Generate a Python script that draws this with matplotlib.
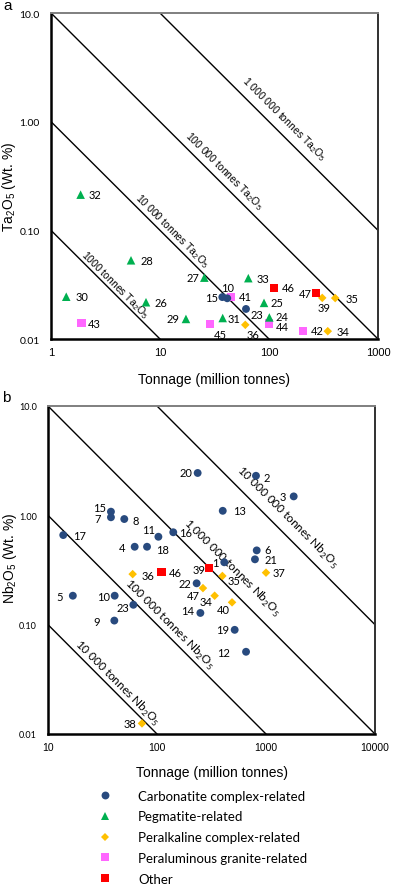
import numpy as np
import matplotlib
matplotlib.use("Agg")
import matplotlib.pyplot as plt
from matplotlib.lines import Line2D
from matplotlib.ticker import NullLocator, FixedLocator, FixedFormatter

# ---- Panel a: Ta2O5 deposits ----
ta_labels = ["32", "28", "30", "26", "43", "29", "27", "33", "46", "15", "10", "41",
             "23", "25", "31", "24", "45", "36", "44", "47", "39", "35", "42", "34"]
ta_tonnage = [1.87, 5.42, 1.38, 7.44, 1.91, 17.3, 25.5, 64.6, 111, 37.3, 41.4, 45.1,
              61.5, 90, 37.6, 100.7, 28.8, 60.6, 99.4, 270, 308, 405, 205, 346]
ta_grade = [0.213, 0.053, 0.0245, 0.0218, 0.014, 0.0153, 0.0367, 0.0363, 0.0297, 0.0243,
            0.0237, 0.0245, 0.0189, 0.0215, 0.0156, 0.0158, 0.0137, 0.0135, 0.0139,
            0.0267, 0.0239, 0.0238, 0.0119, 0.0118]
ta_type = ["peg", "peg", "peg", "peg", "peralum", "peg", "peg", "peg", "other", "carb",
           "carb", "peralum", "carb", "peg", "peg", "peg", "peralum", "peralk", "peralum",
           "other", "peralk", "peralk", "peralum", "peralk"]

# ---- Panel b: Nb2O5 deposits ----
nb_labels = ["20", "2", "3", "13", "15", "7", "8", "17", "11", "16", "4", "18", "6", "21",
             "1", "39", "36", "46", "35", "37", "22", "47", "34", "40", "14", "5", "10",
             "23", "9", "19", "12", "38"]
nb_tonnage = [236, 809, 1795, 401, 37.8, 37.8, 50.1, 13.8, 103, 141, 62.4, 81, 822, 792,
              414, 302, 59.8, 110, 398, 1000, 231, 264, 338, 488, 250, 16.9, 40.9,
              60.7, 40.6, 516, 656, 72.8]
nb_grade = [2.44, 2.3, 1.49, 1.10, 1.08, 0.96, 0.925, 0.66, 0.637, 0.70, 0.516, 0.516,
            0.478, 0.396, 0.372, 0.332, 0.29, 0.305, 0.279, 0.299, 0.239, 0.216, 0.184,
            0.16, 0.128, 0.184, 0.184, 0.152, 0.109, 0.0897, 0.0565, 0.0125]
nb_type = ["carb"] * 15 + ["other", "peralk", "other", "peralk", "peralk", "carb",
                           "peralk", "peralk", "peralk"] + ["carb"] * 7 + ["peralk"]

# contained-oxide guide lines (tonnes)
ta_contours = [1000, 10000, 100000, 1000000]
ta_contour_text = ["1000 tonnes", "10 000 tonnes", "100 000 tonnes", "1 000 000 tonnes"]
nb_contours = [10000, 100000, 1000000, 10000000]
nb_contour_text = ["10 000 tonnes", "100 000 tonnes", "1 000 000 tonnes", "10 000 000 tonnes"]

# deposit types: legend label, marker, colour, size
TYPES = {
    "carb": ("Carbonatite complex-related", "o", "#284A7E", 32),
    "peg": ("Pegmatite-related", "^", "#00B050", 38),
    "peralk": ("Peralkaline complex-related", "D", "#FFC000", 19),
    "peralum": ("Peraluminous granite-related", "s", "#FF66FF", 36),
    "other": ("Other", "s", "#FF0000", 34),
}
DRAW_ORDER = ["peralum", "peralk", "peg", "other", "carb"]
LEGEND_ORDER = ["carb", "peg", "peralk", "peralum", "other"]

# label offsets in pixels (dx right, dy down) and alignment
ta_offsets = {
    "32": (8, 0, "left"), "28": (10, 0, "left"), "30": (9, 0, "left"),
    "26": (9, 0, "left"), "43": (6, 0, "left"), "29": (-6, 0, "right"),
    "27": (-5, 0, "right"), "33": (8, 0, "left"), "46": (8, 0, "left"),
    "15": (-4, 0, "right"), "10": (0, -11, "center"), "41": (8, 0, "left"),
    "23": (5, 6, "left"), "25": (7, 0, "left"), "31": (5, 0, "left"),
    "24": (6, -1, "left"), "45": (4, 10, "left"), "36": (1, 10, "left"),
    "44": (7, 3, "left"), "47": (-4, 1, "right"), "39": (2, 10, "center"),
    "35": (10, 0, "left"), "42": (8, 0, "left"), "34": (9, 0, "left"),
}
nb_offsets = {
    "20": (-5, 0, "right"), "2": (8, 2, "left"), "3": (-8, 0, "right"),
    "13": (10, 0, "left"), "15": (-5, -4, "right"), "7": (-10, 1, "right"),
    "8": (8, 1, "left"), "17": (10, 0, "left"), "11": (-3, -7, "right"),
    "16": (6, 0, "left"), "4": (-9, 1, "right"), "18": (9, 3, "left"),
    "6": (8, -1, "left"), "21": (10, 0, "left"), "1": (-6, 0, "right"),
    "39": (-4, 2, "right"), "36": (9, 1, "left"), "46": (7, 1, "left"),
    "35": (5, 5, "left"), "37": (7, 0, "left"), "22": (-5, 0, "right"),
    "47": (-3, 7, "right"), "34": (-2, 6, "right"), "40": (-2, 7, "right"),
    "14": (-6, -2, "right"), "5": (-10, 1, "right"), "10": (-5, 1, "right"),
    "23": (-4, 3, "right"), "9": (-14, 1, "right"), "19": (-5, 0, "right"),
    "12": (-16, 1, "right"), "38": (-6, 0, "right"),
}

LABEL_FONT = ["Lato", "DejaVu Sans"]
AXIS_FONT = ["Liberation Sans", "DejaVu Sans"]


def style_axes(ax, xlim, xticks, ytick_size, xtick_size):
    ax.set_xscale("log")
    ax.set_yscale("log")
    ax.set_xlim(*xlim)
    ax.set_ylim(0.01, 10)
    ax.xaxis.set_major_locator(FixedLocator(xticks))
    ax.xaxis.set_major_formatter(FixedFormatter([str(t) for t in xticks]))
    ax.xaxis.set_minor_locator(NullLocator())
    yt = [0.01, 0.1, 1, 10]
    ax.yaxis.set_major_locator(FixedLocator(yt))
    ax.yaxis.set_major_formatter(FixedFormatter(["0.01", "0.10", "1.00", "10.0"]))
    ax.yaxis.set_minor_locator(NullLocator())
    ax.tick_params(length=0)
    ax.tick_params(axis="x", pad=6)
    ax.tick_params(axis="y", pad=8)
    for t in ax.get_xticklabels():
        t.set_fontfamily(AXIS_FONT)
        t.set_fontsize(xtick_size)
    for t in ax.get_yticklabels():
        t.set_fontfamily(LABEL_FONT)
        t.set_fontsize(ytick_size)
    for side in ("left", "bottom"):
        ax.spines[side].set_linewidth(1.8)
        ax.spines[side].set_color("black")
    ax.spines["top"].set_linewidth(1.4)
    ax.spines["top"].set_color("#7f7f7f")
    ax.spines["right"].set_linewidth(1.4)
    ax.spines["right"].set_color("#303030")


def draw_points(ax, tonnage, grade, types, labels, offsets):
    tonnage = np.array(tonnage)
    grade = np.array(grade)
    types = np.array(types)
    for key in DRAW_ORDER:
        name, marker, color, size = TYPES[key]
        m = types == key
        if m.any():
            ax.scatter(tonnage[m], grade[m], marker=marker, s=size, color=color,
                       edgecolors="none", zorder=3, clip_on=False)
    for lab, x, y in zip(labels, tonnage, grade):
        dx, dy, ha = offsets[lab]
        ax.annotate(lab, (x, y), xytext=(dx, -dy), textcoords="offset pixels",
                    ha=ha, va="center", fontsize=8, family=LABEL_FONT, zorder=4)


def draw_contours(ax, contours, texts, oxide, xlim, text_pos, fontsize, family):
    xs = np.array(xlim, dtype=float)
    for c in contours:
        ax.plot(xs, c / (1e4 * xs), color="black", lw=1.0, zorder=2)
    for txt, (tx, ty) in zip(texts, text_pos):
        ax.text(tx, ty, txt + " " + oxide, rotation=-45, ha="center", va="center",
                rotation_mode="anchor", fontsize=fontsize, family=family, zorder=2)


fig = plt.figure(figsize=(3.96, 8.87), dpi=100)

# ---------- panel a ----------
ax_a = fig.add_axes([51 / 396, 1 - 340 / 887, 327 / 396, 326 / 887])
style_axes(ax_a, (1, 1000), [1, 10, 100, 1000], 7.5, 8)
draw_contours(ax_a, ta_contours, ta_contour_text, "Ta$_\\mathregular{2}$O$_\\mathregular{5}$",
              (1, 1000), [(3.87, 0.032), (12.9, 0.101), (38.6, 0.36), (137, 1.08)],
              7.5, AXIS_FONT)
draw_points(ax_a, ta_tonnage, ta_grade, ta_type, ta_labels, ta_offsets)
ax_a.set_xlabel("Tonnage (million tonnes)", fontsize=10, family=AXIS_FONT)
ax_a.xaxis.set_label_coords(0.5, -0.1)
ax_a.set_ylabel("Ta$_\\mathregular{2}$O$_\\mathregular{5}$ (Wt. %)", fontsize=10,
                family=AXIS_FONT)
ax_a.yaxis.set_label_coords(-0.1, 0.47)
fig.text(8 / 396, 1 - 6 / 887, "a", fontsize=11, family=AXIS_FONT, ha="center", va="center")

# ---------- panel b ----------
ax_b = fig.add_axes([48 / 396, 1 - 735 / 887, 327 / 396, 328 / 887])
style_axes(ax_b, (10, 10000), [10, 100, 1000, 10000], 6.5, 7.5)
draw_contours(ax_b, nb_contours, nb_contour_text, "Nb$_\\mathregular{2}$O$_\\mathregular{5}$",
              (10, 10000), [(43, 0.030), (131, 0.103), (487, 0.336), (1560, 0.965)],
              8.5, LABEL_FONT)
draw_points(ax_b, nb_tonnage, nb_grade, nb_type, nb_labels, nb_offsets)
ax_b.set_xlabel("Tonnage (million tonnes)", fontsize=10, family=AXIS_FONT)
ax_b.xaxis.set_label_coords(0.5, -0.093)
ax_b.set_ylabel("Nb$_\\mathregular{2}$O$_\\mathregular{5}$ (Wt. %)", fontsize=10,
                family=AXIS_FONT)
ax_b.yaxis.set_label_coords(-0.09, 0.54)
fig.text(6 / 396, 1 - 398 / 887, "b", fontsize=11, family=AXIS_FONT, ha="center", va="center")

# ---------- legend ----------
handles = []
for key in LEGEND_ORDER:
    name, marker, color, size = TYPES[key]
    handles.append(Line2D([], [], ls="none", marker=marker, color=color,
                          markersize=np.sqrt(size), markeredgewidth=0, label=name))
fig.legend(handles=handles, loc="upper left", bbox_to_anchor=(0.232, 0.116),
           frameon=False, borderpad=0, handlelength=1.0, handletextpad=2.0,
           labelspacing=0.66, prop={"family": LABEL_FONT, "size": 9.5})

fig.savefig("out.png", dpi=100)
